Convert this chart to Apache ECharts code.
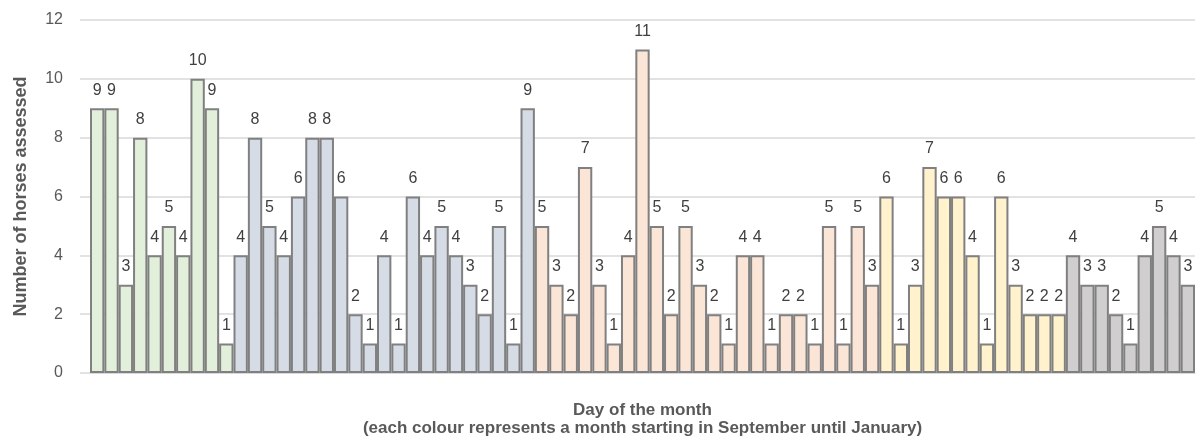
<!DOCTYPE html>
<html>
<head>
<meta charset="utf-8">
<script src="https://cdn.jsdelivr.net/npm/echarts@6/dist/echarts.min.js"></script>
<style>
  html, body { margin: 0; padding: 0; background: #ffffff; }
  #chart { width: 1199px; height: 444px; }
</style>
</head>
<body>
<div id="chart"></div>
<script>
// Horses assessed per recorded day, one array per month (September to January)
const september = [9, 9, 3, 8, 4, 5, 4, 10, 9, 1];
const october   = [4, 8, 5, 4, 6, 8, 8, 6, 2, 1, 4, 1, 6, 4, 5, 4, 3, 2, 5, 1, 9];
const november  = [5, 3, 2, 7, 3, 1, 4, 11, 5, 2, 5, 3, 2, 1, 4, 4, 1, 2, 2, 1, 5, 1, 5, 3];
const december  = [6, 1, 3, 7, 6, 6, 4, 1, 6, 3, 2, 2, 2];
const january   = [4, 3, 3, 2, 1, 4, 5, 4, 3];

const monthNames  = ['Sep', 'Oct', 'Nov', 'Dec', 'Jan'];
const monthColors = ['#E2EFDA', '#D6DCE5', '#FBE5D6', '#FFF2CC', '#D0CECE'];
const yTicks = [0, 2, 4, 6, 8, 10, 12];

const months = [september, october, november, december, january];

// Flatten the months into one bar per day, each coloured by its month
const categories = [];
const barData = [];
months.forEach((values, m) => {
  values.forEach((v, i) => {
    categories.push(monthNames[m] + ' ' + (i + 1));
    barData.push({ value: v, itemStyle: { color: monthColors[m] } });
  });
});

const textFont = '"Liberation Sans", Arial, sans-serif';

const chart = echarts.init(document.getElementById('chart'), null, { renderer: 'canvas' });
chart.setOption({
  animation: false,
  backgroundColor: '#ffffff',
  grid: { left: 90, right: 4, top: 20, bottom: 71, containLabel: false, outerBoundsMode: 'none' },
  xAxis: {
    type: 'category',
    data: categories,
    name: 'Day of the month\n(each colour represents a month starting in September until January)',
    nameLocation: 'middle',
    nameGap: 28,
    nameTextStyle: {
      color: '#595959', fontFamily: textFont, fontWeight: 'bold', fontSize: 17, lineHeight: 18
    },
    axisLine: { show: true, lineStyle: { color: '#D9D9D9', width: 1 } },
    axisTick: { show: false },
    axisLabel: { show: false },
    splitLine: { show: false }
  },
  yAxis: {
    type: 'value',
    min: yTicks[0],
    max: yTicks[yTicks.length - 1],
    interval: yTicks[1] - yTicks[0],
    name: 'Number of horses assessed',
    nameLocation: 'middle',
    nameGap: 60,
    nameTextStyle: {
      color: '#595959', fontFamily: textFont, fontWeight: 'bold', fontSize: 18
    },
    axisLine: { show: false },
    axisTick: { show: true, length: 10, lineStyle: { color: '#D9D9D9', width: 1.5 } },
    axisLabel: { color: '#595959', fontFamily: textFont, fontSize: 16, margin: 27 },
    splitLine: { show: true, lineStyle: { color: '#D9D9D9', width: 1.5 } }
  },
  series: [{
    type: 'bar',
    data: barData,
    barCategoryGap: 0,
    barGap: 0,
    itemStyle: { borderColor: '#808080', borderWidth: 2 },
    label: {
      show: true,
      position: 'top',
      distance: 10,
      color: '#404040',
      fontFamily: textFont,
      fontSize: 16
    }
  }]
});
</script>
</body>
</html>
